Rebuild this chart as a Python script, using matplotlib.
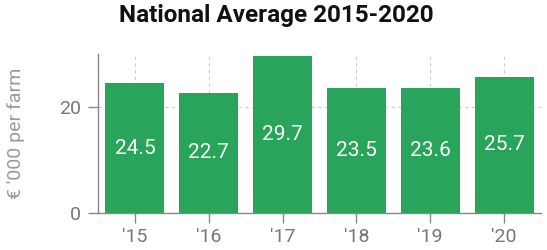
import matplotlib
matplotlib.use("Agg")
import matplotlib.pyplot as plt

years = ["'15", "'16", "'17", "'18", "'19", "'20"]
values = [24.5, 22.7, 29.7, 23.5, 23.6, 25.7]
labels = ["24.5", "22.7", "29.7", "23.5", "23.6", "25.7"]

plt.rcParams["font.family"] = ["Roboto", "DejaVu Sans"]

fig = plt.figure(figsize=(5.47, 2.5), dpi=100)
ax = fig.add_axes([98 / 547, (250 - 213) / 250, (541 - 98) / 547, (213 - 54) / 250])

x = range(len(years))
ax.bar(x, values, width=0.8, color="#28a55b", zorder=2)
for i, (v, t) in enumerate(zip(values, labels)):
    ax.text(i, v / 2, t, ha="center", va="center", color="white", fontsize=15, zorder=3)

ax.set_xlim(-0.5, len(years) - 0.5)
ax.set_ylim(0, max(values) + 0.3)
ax.set_xticks(list(x))
ax.set_xticklabels(years)
ax.set_yticks([0, 20])

for s in ["top", "right"]:
    ax.spines[s].set_visible(False)
for s in ["left", "bottom"]:
    ax.spines[s].set_color("#888888")
    ax.spines[s].set_linewidth(1)
ax.tick_params(colors="#888888", labelcolor="#777777", labelsize=14, length=7, width=1)
ax.tick_params(axis="x", pad=4)
ax.tick_params(axis="y", pad=5)
ax.grid(True, color="#cccccc", linestyle=(0, (3, 3)), linewidth=0.8, zorder=0)
ax.set_axisbelow(True)

ax.set_ylabel("€ '000 per farm", color="#999999", fontsize=14)
ax.yaxis.set_label_coords(-0.165, 0.5)

fig.suptitle("National Average 2015-2020", x=0.505, y=0.985, fontsize=17.5,
             fontweight="bold", color="#111111")

fig.savefig("out.png", dpi=100)
